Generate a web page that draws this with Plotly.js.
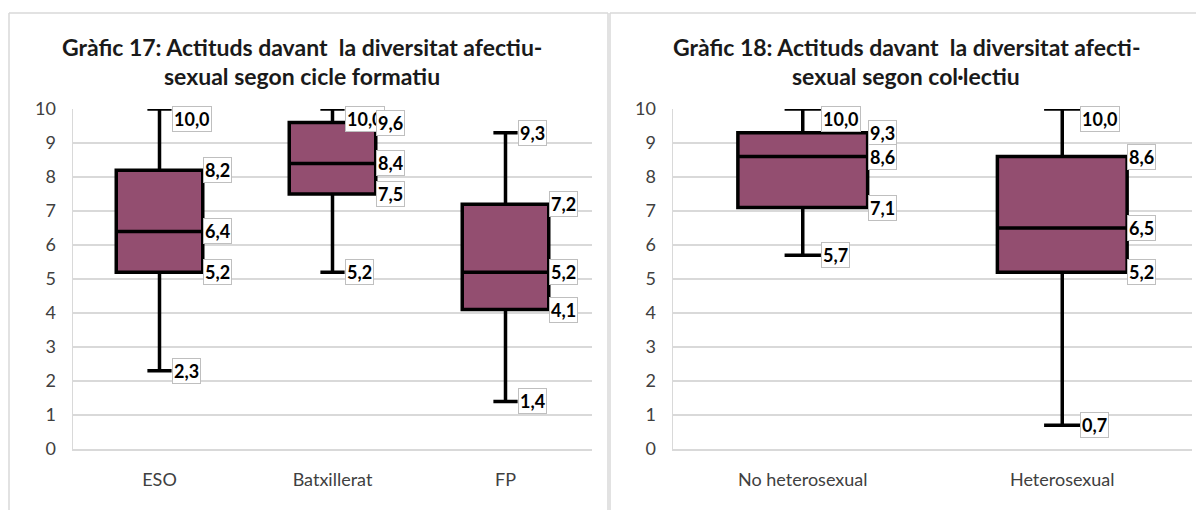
<!DOCTYPE html>
<html>
<head>
<meta charset="utf-8">
<script src="https://cdn.plot.ly/plotly-3.0.1.min.js"></script>
<style>html,body{margin:0;padding:0;background:#fff;}#chart{width:1196px;height:510px;}</style>
</head>
<body>
<div id="chart"></div>
<script>
// ---- Data (Gràfic 17: per cicle formatiu) ----
const cats17 = ['ESO', 'Batxillerat', 'FP'];
const min17 = [2.3, 5.2, 1.4];
const q1_17 = [5.2, 7.5, 4.1];
const med17 = [6.4, 8.4, 5.2];
const q3_17 = [8.2, 9.6, 7.2];
const max17 = [10.0, 10.0, 9.3];

// ---- Data (Gràfic 18: per col·lectiu) ----
const cats18 = ['No heterosexual', 'Heterosexual'];
const min18 = [5.7, 0.7];
const q1_18 = [7.1, 5.2];
const med18 = [8.6, 6.5];
const q3_18 = [9.3, 8.6];
const max18 = [10.0, 10.0];

const yTicks = [0, 1, 2, 3, 4, 5, 6, 7, 8, 9, 10];
const title17 = ['Gràfic 17: Actituds davant\u00a0 la diversitat afectiu-', 'sexual segon cicle formatiu'];
const title18 = ['Gràfic 18: Actituds davant\u00a0 la diversitat afecti-', 'sexual segon col·lectiu'];

// ---- Style ----
const W = 1196, H = 510;
const FILL = '#934E70';
const BOXW = 0.5;
const WHISK = 0.28;
const FONT = 'Lato, "Open Sans", sans-serif';
const GRID = '#D9D9D9';

function px(x) { return x / W; }
function py(y) { return 1 - y / H; }

function boxTrace(cats, mn, q1, md, q3, mx, xa, ya) {
  return {
    type: 'box', x: cats, q1: q1, median: md, q3: q3,
    lowerfence: mn, upperfence: mx,
    width: BOXW, whiskerwidth: WHISK,
    fillcolor: FILL, line: {color: '#000000', width: 3.5},
    boxpoints: false, hoverinfo: 'skip', showlegend: false,
    xaxis: xa, yaxis: ya
  };
}

function fmt(v) { return v.toFixed(1).replace('.', ','); }

function labels(cats, mn, q1, md, q3, mx, xa, ya) {
  const out = [];
  cats.forEach((c, i) => {
    const items = [
      [mx[i], true], [q3[i], false], [md[i], false], [q1[i], false], [mn[i], true]
    ];
    items.forEach(([v, whisker]) => {
      const top = v >= 9.95;
      out.push({
        xref: xa, yref: ya,
        x: i + (whisker ? BOXW * WHISK / 2 : BOXW / 2),
        y: v,
        text: fmt(v), showarrow: false,
        xanchor: 'left', yanchor: top ? 'top' : 'middle',
        yshift: top ? 3 : 0,
        bgcolor: '#FFFFFF', bordercolor: '#BFBFBF', borderwidth: 1, borderpad: 1,
        font: {family: FONT, size: 18, color: '#000000', weight: 'bold'}
      });
    });
  });
  return out;
}

const traces = [
  boxTrace(cats17, min17, q1_17, med17, q3_17, max17, 'x', 'y'),
  boxTrace(cats18, min18, q1_18, med18, q3_18, max18, 'x2', 'y2')
];

const yDomain = [py(449), py(109)];

function yAxis(anchor) {
  return {
    anchor: anchor, domain: yDomain, range: [0, 10], tickvals: yTicks,
    showgrid: true, gridcolor: GRID, gridwidth: 1.5,
    showline: true, linecolor: GRID, linewidth: 1.5,
    zeroline: false, ticks: '', ticklabelstandoff: 12,
    tickfont: {family: FONT, size: 18, color: '#404040'}, fixedrange: true
  };
}
function xAxis(anchor, dom, n) {
  return {
    anchor: anchor, domain: dom, type: 'category', range: [-0.5, n - 0.5],
    showgrid: false, showline: true, linecolor: GRID, linewidth: 1.5,
    zeroline: false, ticks: '', ticklabelstandoff: 14,
    tickfont: {family: FONT, size: 18, color: '#404040'}, fixedrange: true
  };
}

function titleAnn(lines, cx) {
  return lines.map((t, k) => ({
    xref: 'paper', yref: 'paper', x: px(cx), y: py(47 + 29 * k),
    xanchor: 'center', yanchor: 'middle', showarrow: false, text: t,
    font: {family: FONT, size: 23, color: '#1a1a1a', weight: 'bold'}
  }));
}

const annotations = []
  .concat(titleAnn(title17, 302))
  .concat(titleAnn(title18, 906))
  .concat(labels(cats17, min17, q1_17, med17, q3_17, max17, 'x', 'y'))
  .concat(labels(cats18, min18, q1_18, med18, q3_18, max18, 'x2', 'y2'));

const lineStyle = {color: GRID, width: 1.5};
const shapes = [
  {type: 'line', xref: 'paper', yref: 'paper', x0: px(9), x1: px(9), y0: py(13), y1: py(520), line: lineStyle},
  {type: 'line', xref: 'paper', yref: 'paper', x0: px(9), x1: px(608), y0: py(13), y1: py(13), line: lineStyle},
  {type: 'line', xref: 'paper', yref: 'paper', x0: px(608), x1: px(608), y0: py(13), y1: py(520), line: lineStyle},
  {type: 'line', xref: 'paper', yref: 'paper', x0: px(610), x1: px(610), y0: py(13), y1: py(520), line: lineStyle},
  {type: 'line', xref: 'paper', yref: 'paper', x0: px(610), x1: px(1200), y0: py(13), y1: py(13), line: lineStyle}
];

const layout = {
  width: W, height: H,
  margin: {l: 0, r: 0, t: 0, b: 0},
  paper_bgcolor: '#FFFFFF', plot_bgcolor: '#FFFFFF',
  showlegend: false,
  boxmode: 'overlay',
  xaxis: xAxis('y', [px(73), px(592)], cats17.length),
  yaxis: yAxis('x'),
  xaxis2: xAxis('y2', [px(673), px(1192)], cats18.length),
  yaxis2: yAxis('x2'),
  annotations: annotations,
  shapes: shapes,
  font: {family: FONT}
};

Plotly.newPlot('chart', traces, layout, {displayModeBar: false, staticPlot: true});
</script>
</body>
</html>
